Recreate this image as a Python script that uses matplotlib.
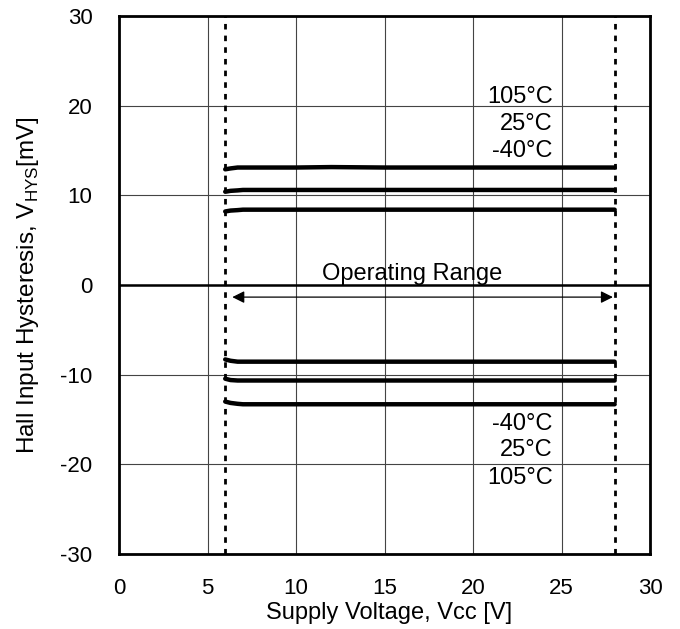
import matplotlib.pyplot as plt
import numpy as np

plt.rcParams['font.family'] = ['Liberation Sans', 'DejaVu Sans']
plt.rcParams['axes.unicode_minus'] = False

# supply voltage points along each curve
vcc = [6.0, 6.3, 6.7, 7.0, 8.0, 10.0, 12.0, 15.0, 20.0, 25.0, 28.0]

# positive hysteresis (mV)
pos_105 = [12.9, 13.0, 13.1, 13.1, 13.1, 13.1, 13.15, 13.1, 13.1, 13.1, 13.1]
pos_25 = [10.4, 10.5, 10.55, 10.6, 10.6, 10.6, 10.6, 10.6, 10.6, 10.6, 10.6]
pos_m40 = [8.2, 8.3, 8.35, 8.4, 8.4, 8.4, 8.4, 8.4, 8.4, 8.4, 8.4]

# negative hysteresis (mV)
neg_m40 = [-8.3, -8.45, -8.55, -8.55, -8.55, -8.55, -8.55, -8.55, -8.55, -8.55, -8.55]
neg_25 = [-10.45, -10.6, -10.65, -10.65, -10.65, -10.65, -10.65, -10.65, -10.65, -10.65, -10.65]
neg_105 = [-13.0, -13.15, -13.25, -13.3, -13.3, -13.3, -13.3, -13.3, -13.3, -13.3, -13.3]

temps_top = ['105°C', '25°C', '-40°C']
temps_bottom = ['-40°C', '25°C', '105°C']

vmin, vmax = 6.0, 28.0

fig = plt.figure(figsize=(6.8, 6.29), dpi=100)
ax = fig.add_axes([0.175, 0.1192, 0.781, 0.8554])

for s in [pos_105, pos_25, pos_m40, neg_m40, neg_25, neg_105]:
    ax.plot(vcc, s, color='black', lw=3.2, solid_capstyle='round', zorder=4)

ax.axvline(vmin, color='black', lw=2, dashes=(2, 2.2), zorder=3)
ax.axvline(vmax, color='black', lw=2, dashes=(2, 2.2), zorder=3)
ax.axhline(0, color='black', lw=1.8, zorder=3)

ax.annotate('', xy=(6.4, -1.35), xytext=(27.9, -1.35),
            arrowprops=dict(arrowstyle='<|-|>', color='black', lw=0.9,
                            mutation_scale=18, shrinkA=0, shrinkB=0))
ax.text(16.55, 0.6, 'Operating Range', ha='center', va='baseline', fontsize=17)

for t, y in zip(temps_top, [20.3, 17.3, 14.3]):
    ax.text(24.5, y, t, ha='right', va='baseline', fontsize=17)
for t, y in zip(temps_bottom, [-16.2, -19.1, -22.2]):
    ax.text(24.5, y, t, ha='right', va='baseline', fontsize=17)

ax.set_xlim(0, 30)
ax.set_ylim(-30, 30)
ax.set_xticks(np.arange(0, 31, 5))
ax.set_yticks(np.arange(-30, 31, 10))
ax.tick_params(length=0, labelsize=16)
ax.tick_params(axis='x', pad=17)
ax.tick_params(axis='y', pad=19)
ax.grid(True, color='#444444', lw=0.8)
ax.set_axisbelow(True)
for sp in ax.spines.values():
    sp.set_linewidth(2)

ax.set_xlabel('Supply Voltage, Vcc [V]', fontsize=17)
ax.set_ylabel(r'Hall Input Hysteresis, V$_{\mathregular{HYS}}$[mV]', fontsize=17.5)
ax.xaxis.set_label_coords(0.5085, -0.089)
ax.yaxis.set_label_coords(-0.146, 0.5)

fig.savefig('out.png', dpi=100)
